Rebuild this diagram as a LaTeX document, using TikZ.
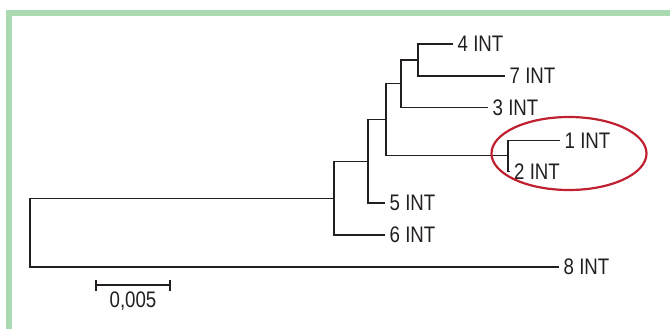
\documentclass[tikz,border=0pt]{standalone}
\usepackage{fontspec}
\newfontfamily\lblfont[FakeStretch=0.83]{Liberation Sans}
\usetikzlibrary{shapes.geometric}
\definecolor{framegreen}{RGB}{170,218,178}
\definecolor{ringred}{RGB}{192,32,48}
\definecolor{ink}{RGB}{35,31,32}
\tikzset{
  branch/.style={draw=ink, line width=1.1pt},
  leaf/.style={anchor=west, inner xsep=4.5pt, inner ysep=0pt, text=ink,
    font=\lblfont\fontsize{22.5}{25}\selectfont},
  ring/.style={ellipse, draw=ringred, line width=2.2pt, inner sep=0pt,
    minimum width=155pt, minimum height=73pt},
  tick/.style={draw=ink, line width=1.1pt}
}
\begin{document}
\begin{tikzpicture}[x=1pt, y=-1pt]
  \useasboundingbox (0,0) rectangle (670,329);
  % frame
  \draw[framegreen, line width=5.5pt] (9,335) -- (9,13) -- (676,13);

  % internal nodes of the tree
  \coordinate (root) at (30,232.7);
  \coordinate (n6)   at (334,198.3);
  \coordinate (n5)   at (368,161.5);
  \coordinate (n3)   at (386,119.3);
  \coordinate (n7)   at (401,83.8);
  \coordinate (n4)   at (418,60);
  \coordinate (n12)  at (508,155.5);

  % leaves
  \node[leaf] (l4) at (453,44)    {4 INT};
  \node[leaf] (l7) at (505,76)    {7 INT};
  \node[leaf] (l3) at (488,107.7) {3 INT};
  \node[leaf] (l1) at (560,140.7) {1 INT};
  \node[leaf] (l2) at (509.5,171.5) {2 INT};
  \node[leaf] (l5) at (385,203)   {5 INT};
  \node[leaf] (l6) at (385,235)   {6 INT};
  \node[leaf] (l8) at (559,267)   {8 INT};

  % branches
  \draw[branch] (root) |- (n6);
  \draw[branch] (root) |- (l8.west);
  \draw[branch] (n6) |- (n5);
  \draw[branch] (n6) |- (l6.west);
  \draw[branch] (n5) |- (n3);
  \draw[branch] (n5) |- (l5.west);
  \draw[branch] (n3) |- (n7);
  \draw[branch] (n3) |- (n12);
  \draw[branch] (n7) |- (n4);
  \draw[branch] (n7) |- (l3.west);
  \draw[branch] (n4) |- (l4.west);
  \draw[branch] (n4) |- (l7.west);
  \draw[branch] (n12) |- (l1.west);
  \draw[branch] (n12) |- (l2.west);

  % highlighted pair
  \node[ring] (hl) at (569,153.5) {};

  % scale bar
  \coordinate (sbL) at (96,285);
  \coordinate (sbR) at (170,285);
  \draw[tick] (sbL) -- (sbR);
  \draw[tick] ([yshift=-5.5pt]sbL) -- ([yshift=5.5pt]sbL);
  \draw[tick] ([yshift=-5.5pt]sbR) -- ([yshift=5.5pt]sbR);
  \node[leaf, anchor=north, inner xsep=0pt] (sblabel) at (133,291.5) {0,005};
\end{tikzpicture}
\end{document}
